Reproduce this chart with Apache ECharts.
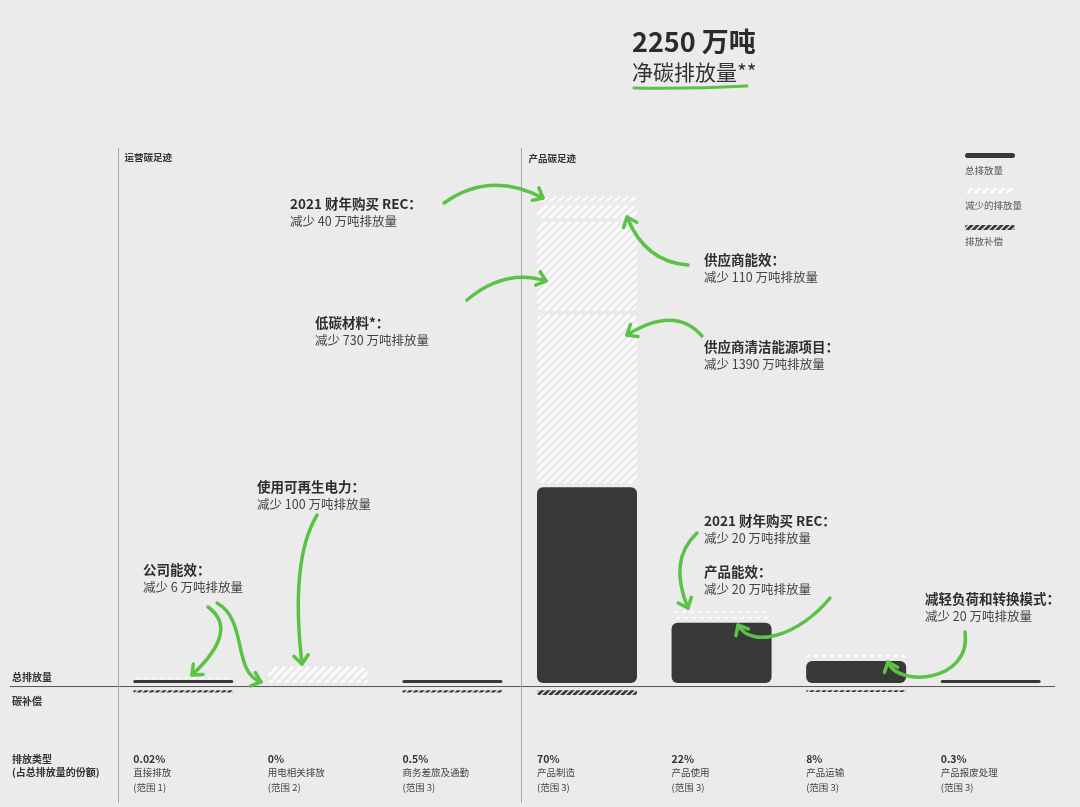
<!DOCTYPE html>
<html>
<head>
<meta charset="utf-8">
<script src="https://cdn.jsdelivr.net/npm/echarts@6/dist/echarts.min.js"></script>
<style>
  html, body { margin: 0; background: #ebebeb; }
  #main { width: 1080px; height: 807px; }
</style>
</head>
<body>
<div id="main"></div>
<script>
// ---- data (万吨) ----
const categories = ['直接排放', '用电相关排放', '商务差旅及通勤', '产品制造', '产品使用', '产品运输', '产品报废处理'];
const shareLabels = ['0.02%', '0%', '0.5%', '70%', '22%', '8%', '0.3%'];
const scopeLabels = ['(范围 1)', '(范围 2)', '(范围 3)', '(范围 3)', '(范围 3)', '(范围 3)', '(范围 3)'];
const totalEmissions = [0.45, 0, 11, 1610, 495, 180, 7];
// reductions, stacked bottom to top
const reductionLevel1 = [6, 100, null, 1390, 20, 20, null];
const reductionLevel2 = [null, null, null, 730, 20, null, null];
const reductionLevel3 = [null, null, null, 110, null, null, null];
const reductionLevel4 = [null, null, null, 40, null, null, null];
const offsets = [20, null, 20, 40, null, 15, null];

const FONT = '"Noto Sans CJK SC", "Noto Sans", sans-serif';
const GREEN = '#5bc247';
const GAP = 30; // visual gap between stacked pieces, in value units

function hatch(bg, stripe, size, w) {
  const c = document.createElement('canvas');
  c.width = c.height = size;
  const ctx = c.getContext('2d');
  ctx.fillStyle = bg;
  ctx.fillRect(0, 0, size, size);
  ctx.strokeStyle = stripe;
  ctx.lineWidth = w;
  ctx.beginPath();
  ctx.moveTo(0, size); ctx.lineTo(size, 0);
  ctx.moveTo(-size / 2, size / 2); ctx.lineTo(size / 2, -size / 2);
  ctx.moveTo(size / 2, size * 1.5); ctx.lineTo(size * 1.5, size / 2);
  ctx.stroke();
  return c;
}
const lightHatch = { image: hatch('#e9e9e9', '#fcfcfc', 8, 3), repeat: 'repeat' };
const darkHatch = { image: hatch('#3a3a3a', '#eeeeee', 6, 1.4), repeat: 'repeat' };

const chart = echarts.init(document.getElementById('main'), null, { renderer: 'canvas' });

const series = [];
function addSpacer(data) {
  series.push({
    type: 'bar', stack: 'e', barWidth: 100, data: data,
    itemStyle: { color: 'transparent' }, silent: true, emphasis: { disabled: true }
  });
}
const spacerFor = (src, sign) => src.map(v => (v == null ? '-' : sign * GAP));

addSpacer(categories.map(() => GAP));
series.push({
  name: '总排放量', type: 'bar', stack: 'e', barWidth: 100, barMinHeight: 3,
  data: totalEmissions.map(v => (v === 0 ? { value: v, itemStyle: { color: lightHatch, borderRadius: 1 } } : v)),
  itemStyle: { color: '#383838', borderRadius: 6 },
  emphasis: { disabled: true }
});
[reductionLevel1, reductionLevel2, reductionLevel3, reductionLevel4].forEach(r => {
  addSpacer(spacerFor(r, 1));
  series.push({
    name: '减少的排放量', type: 'bar', stack: 'e', barWidth: 100, barMinHeight: 2,
    data: r.map(v => (v == null ? '-' : v)),
    itemStyle: { color: lightHatch, borderRadius: 6 },
    emphasis: { disabled: true }
  });
});
addSpacer(spacerFor(offsets, -1));
series.push({
  name: '排放补偿', type: 'bar', stack: 'e', barWidth: 100,
  data: offsets.map(v => (v == null ? '-' : -v)),
  itemStyle: { color: darkHatch, borderRadius: 2 },
  emphasis: { disabled: true }
});

chart.setOption({
  animation: false,
  backgroundColor: '#ebebeb',
  grid: { left: 116, right: 22, top: 176, bottom: 84 },
  xAxis: {
    type: 'category', data: categories,
    axisLine: { show: false }, axisTick: { show: false }, axisLabel: { show: false }
  },
  yAxis: { type: 'value', min: -300, max: 4200, show: false, splitLine: { show: false } },
  series: series
});

// ---- annotations & decorations ----
const cx = i => chart.convertToPixel({ xAxisIndex: 0 }, i);
const zeroY = chart.convertToPixel({ yAxisIndex: 0 }, 0);
const band = cx(1) - cx(0);
const g = [];

function text(t, x, y, size, bold, color) {
  g.push({
    type: 'text', silent: true, z: 100,
    style: {
      text: t, x: x, y: y, fill: color || '#333', fontFamily: FONT,
      fontSize: size, fontWeight: bold ? 'bold' : 'normal', verticalAlign: 'middle'
    }
  });
}
function line(x1, y1, x2, y2, color, w) {
  g.push({ type: 'line', silent: true, z: 1, shape: { x1, y1, x2, y2 }, style: { stroke: color, lineWidth: w } });
}
function arrow(x1, y1, c1x, c1y, c2x, c2y, x2, y2) {
  const shape = { x1, y1, x2, y2, cpx1: c1x, cpy1: c1y };
  if (c2x != null) { shape.cpx2 = c2x; shape.cpy2 = c2y; }
  g.push({ type: 'bezierCurve', silent: true, z: 100, shape, style: { stroke: GREEN, lineWidth: 3.5, lineCap: 'round', fill: null } });
  const px = c2x != null ? c2x : c1x, py = c2x != null ? c2y : c1y;
  const a = Math.atan2(y2 - py, x2 - px), L = 11, s = 0.7;
  g.push({
    type: 'polyline', silent: true, z: 100,
    shape: { points: [[x2 - L * Math.cos(a - s), y2 - L * Math.sin(a - s)], [x2, y2], [x2 - L * Math.cos(a + s), y2 - L * Math.sin(a + s)]] },
    style: { stroke: GREEN, lineWidth: 3.5, lineCap: 'round', lineJoin: 'round', fill: null }
  });
}
function note(x, y, title, sub) {
  text(title, x, y, 13.5, true, '#2e2e2e');
  text(sub, x, y + 17, 12.5, false, '#444');
}

// baseline and section separators
line(10, zeroY, 1055, zeroY, '#555', 1);
const sep1 = Math.round(cx(0) - band / 2) + 2.5;
const sep2 = Math.round(cx(3) - band / 2) + 1.5;
line(sep1, 148, sep1, 803, '#a8a8a8', 1);
line(sep2, 148, sep2, 803, '#a8a8a8', 1);
text('运营碳足迹', sep1 + 6, 157, 9.5, true, '#333');
text('产品碳足迹', sep2 + 7, 158, 9.5, true, '#333');
text('总排放量', 12, 677, 10, true, '#333');
text('碳补偿', 12, 701, 10, true, '#333');

// bottom category labels
text('排放类型', 12, 759, 10, true, '#333');
text('(占总排放量的份额)', 12, 772, 10, true, '#333');
categories.forEach((c, i) => {
  const x = cx(i) - 50;
  text(shareLabels[i], x, 759, 10.5, true, '#333');
  text(c, x, 772, 9.5, false, '#444');
  text(scopeLabels[i], x, 787, 9.5, false, '#444');
});

// title
text('2250 万吨', 632, 42, 27, true, '#2b2b2b');
text('净碳排放量**', 632, 72, 21, false, '#333');
g.push({
  type: 'bezierCurve', silent: true, z: 100,
  shape: { x1: 634, y1: 88, cpx1: 690, cpy1: 89, x2: 747, y2: 86 },
  style: { stroke: GREEN, lineWidth: 3, lineCap: 'round', fill: null }
});

// legend
g.push({ type: 'rect', silent: true, z: 100, shape: { x: 965, y: 153, width: 50, height: 5, r: 2.5 }, style: { fill: '#383838' } });
text('总排放量', 965, 170, 9.5, false, '#555');
g.push({ type: 'rect', silent: true, z: 100, shape: { x: 965, y: 188, width: 50, height: 5, r: 2 }, style: { fill: lightHatch } });
text('减少的排放量', 965, 205, 9.5, false, '#555');
g.push({ type: 'rect', silent: true, z: 100, shape: { x: 965, y: 225, width: 50, height: 5, r: 2 }, style: { fill: darkHatch } });
text('排放补偿', 965, 241, 9.5, false, '#555');

// notes
note(290, 204, '2021 财年购买 REC：', '减少 40 万吨排放量');
note(315, 323, '低碳材料*：', '减少 730 万吨排放量');
note(704, 260, '供应商能效：', '减少 110 万吨排放量');
note(704, 347, '供应商清洁能源项目：', '减少 1390 万吨排放量');
note(257, 487, '使用可再生电力：', '减少 100 万吨排放量');
note(143, 570, '公司能效：', '减少 6 万吨排放量');
note(704, 521, '2021 财年购买 REC：', '减少 20 万吨排放量');
note(704, 572, '产品能效：', '减少 20 万吨排放量');
note(925, 599, '减轻负荷和转换模式：', '减少 20 万吨排放量');

// arrows
arrow(444, 203, 490, 170, null, null, 543, 198);
arrow(467, 300, 505, 268, null, null, 546, 281);
arrow(688, 265, 645, 262, null, null, 627, 217);
arrow(702, 336, 675, 305, null, null, 627, 335);
arrow(317, 515, 290, 560, null, null, 302, 664);
arrow(208, 607, 240, 630, null, null, 192, 675);
arrow(217, 603, 248, 620, 232, 672, 261, 682);
arrow(697, 533, 668, 560, null, null, 688, 608);
arrow(830, 598, 800, 635, 752, 650, 738, 625);
arrow(965, 632, 972, 682, 898, 688, 888, 662);

chart.setOption({ graphic: { elements: g } });
</script>
</body>
</html>
